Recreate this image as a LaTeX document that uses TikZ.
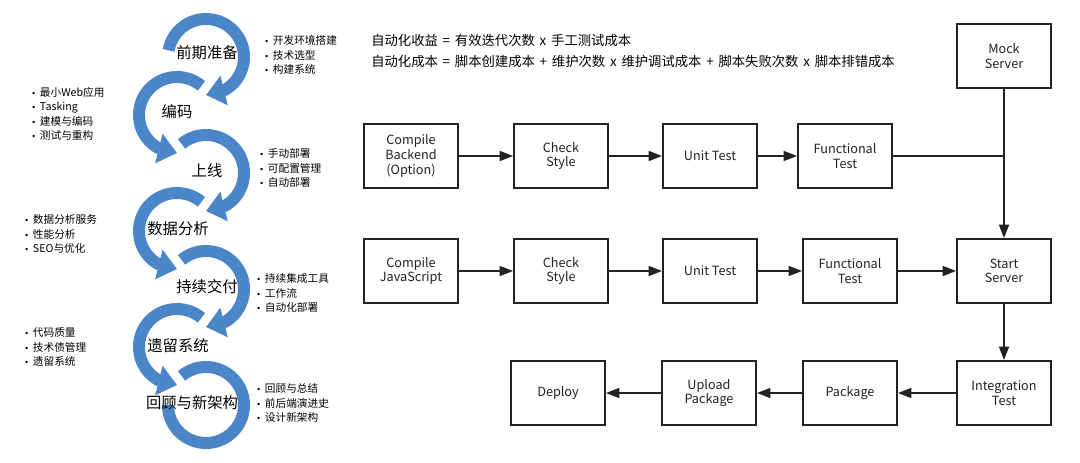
\documentclass[tikz,border=0pt]{standalone}
\usepackage{fontspec}
\setmainfont{Noto Sans CJK SC}
\newfontfamily\bulletfont{DejaVu Sans}
\usepackage{tikz}
\usetikzlibrary{positioning, arrows.meta, bending}
\usepackage{xcolor}
\definecolor{mRingBlue}{HTML}{4A86C8}
\definecolor{mLineDark}{HTML}{222222}
\newcommand{\bul}{{\bulletfont\fontsize{6}{6}\selectfont •}\hspace{3pt}}
\newcommand{\op}[1]{\hspace{3.6pt}#1\hspace{3.6pt}}
\tikzset{
  stepbox/.style={draw=mLineDark, line width=1.2pt, rectangle, minimum width=70.8pt, minimum height=48.3pt, align=center, font=\fontsize{9.5}{11}\selectfont, text=mLineDark},
  flow/.style={draw=mLineDark, line width=1.1pt, -{Triangle[length=10pt,width=7.5pt]}},
  ring/.style={draw=mRingBlue, line width=9pt, -{Triangle[width=22pt,length=14pt]}},
  stage/.style={font=\fontsize{11.5}{13}\selectfont, inner sep=0pt},
  notes/.style={anchor=west, align=left, inner sep=0pt, font=\fontsize{8}{10.9}\selectfont}
}

\begin{document}
\begin{tikzpicture}[x=0.75pt, y=0.75pt]
  \useasboundingbox (0,0) rectangle (1080,-463);

  \draw[mRingBlue, line width=9pt] (206,-405) ++(130:28.5pt) arc[start angle=130, end angle=-180, radius=28.5pt];
  \draw[ring] (177,-347) ++(50:28.5pt) arc[start angle=50, end angle=270, radius=28.5pt];
  \draw[ring] (206,-289) ++(130:28.5pt) arc[start angle=130, end angle=-90, radius=28.5pt];
  \draw[ring] (177,-231) ++(50:28.5pt) arc[start angle=50, end angle=270, radius=28.5pt];
  \draw[ring] (206,-173) ++(130:28.5pt) arc[start angle=130, end angle=-90, radius=28.5pt];
  \draw[ring] (177,-115) ++(50:28.5pt) arc[start angle=50, end angle=270, radius=28.5pt];
  \draw[ring] (206,-57) ++(170:28.5pt) arc[start angle=170, end angle=-90, radius=28.5pt];

  \node[stage] (prep) at (207,-53) {前期准备};
  \node[stage] (code) at (177,-112) {编码};
  \node[stage] (live) at (207,-171) {上线};
  \node[stage] (data) at (178,-229) {数据分析};
  \node[stage] (cdel) at (207,-287) {持续交付};
  \node[stage] (lgcy) at (178,-346) {遗留系统};
  \node[stage] (rvw) at (192,-403) {回顾与新架构};

  \node[notes] (prepn) at (264,-55) {\bul 开发环境搭建\\\bul 技术选型\\\bul 构建系统};
  \node[notes] (coden) at (31,-114) {\bul 最小Web应用\\\bul Tasking\\\bul 建模与编码\\\bul 测试与重构};
  \node[notes] (liven) at (259,-168) {\bul 手动部署\\\bul 可配置管理\\\bul 自动部署};
  \node[notes] (datan) at (24,-234) {\bul 数据分析服务\\\bul 性能分析\\\bul SEO与优化};
  \node[notes] (cdeln) at (256,-293) {\bul 持续集成工具\\\bul 工作流\\\bul 自动化部署};
  \node[notes] (lgcyn) at (24,-347) {\bul 代码质量\\\bul 技术债管理\\\bul 遗留系统};
  \node[notes] (rvwn) at (256,-403) {\bul 回顾与总结\\\bul 前后端演进史\\\bul 设计新架构};

  \node[anchor=west, align=left, inner sep=0pt, font=\fontsize{10}{15.75}\selectfont] (formula) at (371,-50.5)
    {自动化收益\op{=}有效迭代次数\op{x}手工测试成本\\自动化成本\op{=}脚本创建成本\op{+}维护次数\op{x}维护调试成本\op{+}脚本失败次数\op{x}脚本排错成本};

  \node[stepbox] (cbk) at (411,-156) {Compile\\Backend\\(Option)};
  \node[stepbox, right=40.5pt of cbk] (chk1) {Check\\Style};
  \node[stepbox, right=39.75pt of chk1] (unit1) {Unit Test};
  \node[stepbox, right=29.25pt of unit1] (func1) {Functional\\Test};

  \node[stepbox, below=36.75pt of cbk] (cjs) {Compile\\JavaScript};
  \node[stepbox, right=40.5pt of cjs] (chk2) {Check\\Style};
  \node[stepbox, right=39.75pt of chk2] (unit2) {Unit Test};
  \node[stepbox, right=33pt of unit2] (func2) {Functional\\Test};
  \node[stepbox, right=43.5pt of func2] (srv) {Start\\Server};
  \node[stepbox, above=111.75pt of srv] (mock) {Mock\\Server};

  \node[stepbox, below=42pt of srv] (itg) {Integration\\Test};
  \node[stepbox, left=43.5pt of itg] (pkg) {Package};
  \node[stepbox, left=33.75pt of pkg] (upl) {Upload\\Package};
  \node[stepbox, left=41.25pt of upl] (dep) {Deploy};

  \draw[flow] (cbk) -- (chk1);
  \draw[flow] (chk1) -- (unit1);
  \draw[flow] (unit1) -- (func1);
  \draw[draw=mLineDark, line width=1.1pt] (func1.east) -- (func1.east -| srv.north);
  \draw[flow] (mock) -- (srv);

  \draw[flow] (cjs) -- (chk2);
  \draw[flow] (chk2) -- (unit2);
  \draw[flow] (unit2) -- (func2);
  \draw[flow] (func2) -- (srv);
  \draw[flow] (srv) -- (itg);

  \draw[flow] (itg) -- (pkg);
  \draw[flow] (pkg) -- (upl);
  \draw[flow] (upl) -- (dep);
\end{tikzpicture}
\end{document}
